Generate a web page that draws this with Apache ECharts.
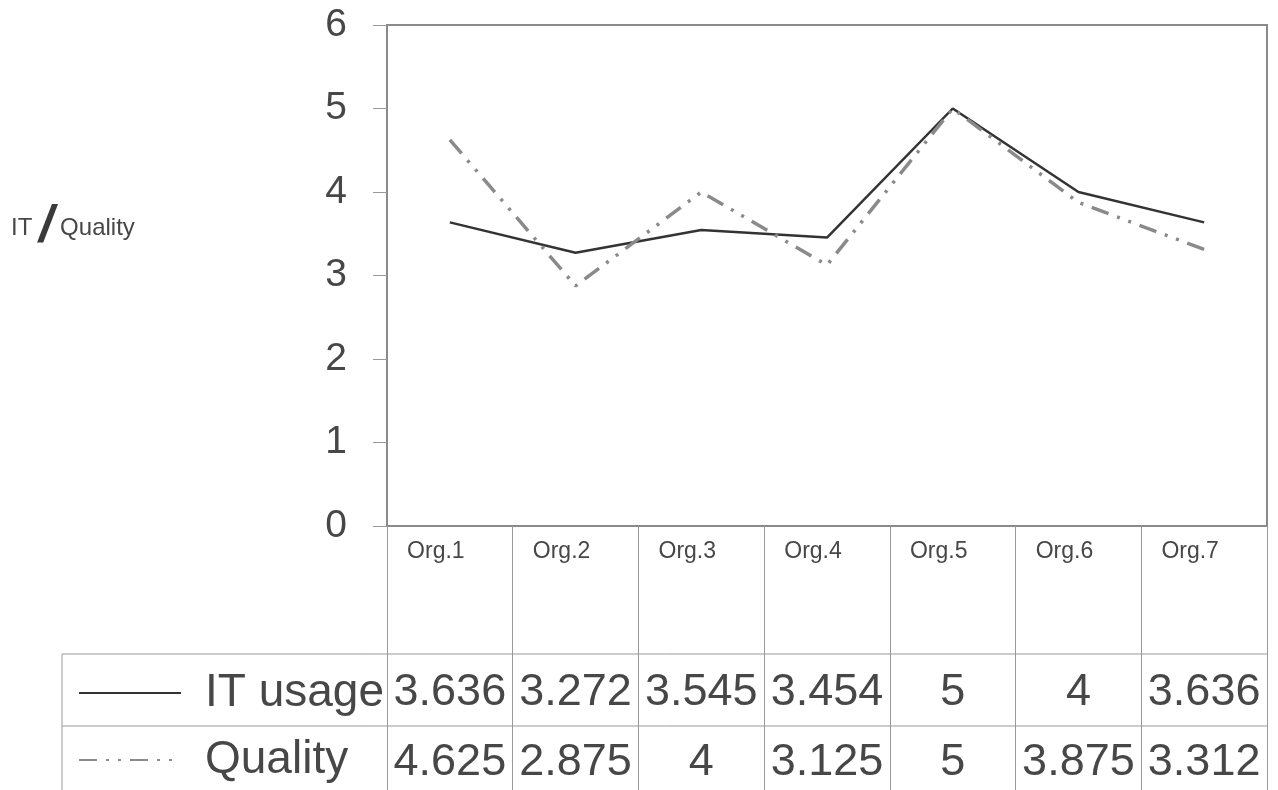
<!DOCTYPE html>
<html>
<head>
<meta charset="utf-8">
<script src="https://cdn.jsdelivr.net/npm/echarts@6/dist/echarts.min.js"></script>
<style>
html,body{margin:0;padding:0;background:#fff;}
#chart{width:1278px;height:790px;}
</style>
</head>
<body>
<div id="chart"></div>
<script>
const categories = ['Org.1','Org.2','Org.3','Org.4','Org.5','Org.6','Org.7'];
const itUsage = [3.636, 3.272, 3.545, 3.454, 5, 4, 3.636];
const quality = [4.625, 2.875, 4, 3.125, 5, 3.875, 3.312];
const seriesNames = ['IT usage', 'Quality'];
const yTicks = [0, 1, 2, 3, 4, 5, 6];

const FONT = '"Liberation Sans", Arial, sans-serif';
const TXT = '#474747';
const chart = echarts.init(document.getElementById('chart'));

const option = {
  backgroundColor: '#fff',
  animation: false,
  textStyle: { fontFamily: FONT, color: TXT },
  grid: {
    left: 387, right: 11, top: 25, bottom: 264,
    show: true, borderColor: '#8a8a8a', borderWidth: 2, backgroundColor: 'transparent'
  },
  legend: {
    orient: 'vertical',
    left: 73, top: 664,
    itemWidth: 102, itemHeight: 16,
    itemGap: 19,
    selectedMode: false,
    data: seriesNames,
    itemStyle: { opacity: 0 },
    textStyle: { fontFamily: FONT, fontSize: 46, color: TXT, lineHeight: 48, padding: [0, 0, 0, 19] }
  },
  xAxis: {
    type: 'category',
    data: categories,
    boundaryGap: true,
    axisLine: { show: true, lineStyle: { color: '#8a8a8a', width: 2 } },
    axisTick: { show: true, interval: 0, length: 264, lineStyle: { color: '#9a9a9a', width: 1 } },
    axisLabel: {
      interval: 0,
      margin: 11,
      fontFamily: FONT,
      color: TXT,
      formatter: function (value, idx) {
        return '{org|' + value + '}\n{gap| }\n{v|' + itUsage[idx] + '}\n{v|' + quality[idx] + '}';
      },
      rich: {
        org: { fontSize: 23, lineHeight: 30, color: TXT, fontFamily: FONT, padding: [0, 28, 0, 0] },
        gap: { fontSize: 10, lineHeight: 91 },
        v: { fontSize: 45, lineHeight: 70, color: TXT, fontFamily: FONT }
      }
    }
  },
  yAxis: {
    type: 'value',
    min: 0, max: 6, interval: 1,
    splitLine: { show: false },
    axisLine: { show: true, lineStyle: { color: '#8a8a8a', width: 2 } },
    axisTick: { show: true, length: 14, lineStyle: { color: '#9a9a9a', width: 1 } },
    axisLabel: {
      margin: 40,
      fontSize: 39,
      color: TXT,
      fontFamily: FONT,
      formatter: function (v) { return yTicks.indexOf(v) >= 0 ? String(v) : ''; }
    }
  },
  graphic: [
    { type: 'line', shape: { x1: 62, y1: 654, x2: 1267, y2: 654 }, style: { stroke: '#9a9a9a', lineWidth: 1 } },
    { type: 'line', shape: { x1: 62, y1: 726, x2: 1267, y2: 726 }, style: { stroke: '#9a9a9a', lineWidth: 1 } },
    { type: 'line', shape: { x1: 62, y1: 654, x2: 62, y2: 790 }, style: { stroke: '#9a9a9a', lineWidth: 1 } },
    {
      type: 'text', left: 11, top: 202,
      style: {
        text: '{a|IT }{s|/}{a| Quality}',
        rich: {
          a: { fontSize: 24, fontFamily: FONT, fill: TXT },
          s: { fontSize: 52, fontWeight: 'bold', fontStyle: 'italic', fontFamily: FONT, fill: '#3a3a3a' }
        }
      }
    }
  ],
  series: [
    {
      name: seriesNames[0], type: 'line', data: itUsage,
      symbol: 'none', showSymbol: false,
      lineStyle: { color: '#333333', width: 2.5, type: 'solid' },
      itemStyle: { color: '#333333' }
    },
    {
      name: seriesNames[1], type: 'line', data: quality,
      symbol: 'none', showSymbol: false,
      lineStyle: { color: '#8a8a8a', width: 3.5, type: [18, 9, 3, 9, 3, 9] },
      itemStyle: { color: '#8a8a8a' }
    }
  ]
};
chart.setOption(option);
</script>
</body>
</html>
